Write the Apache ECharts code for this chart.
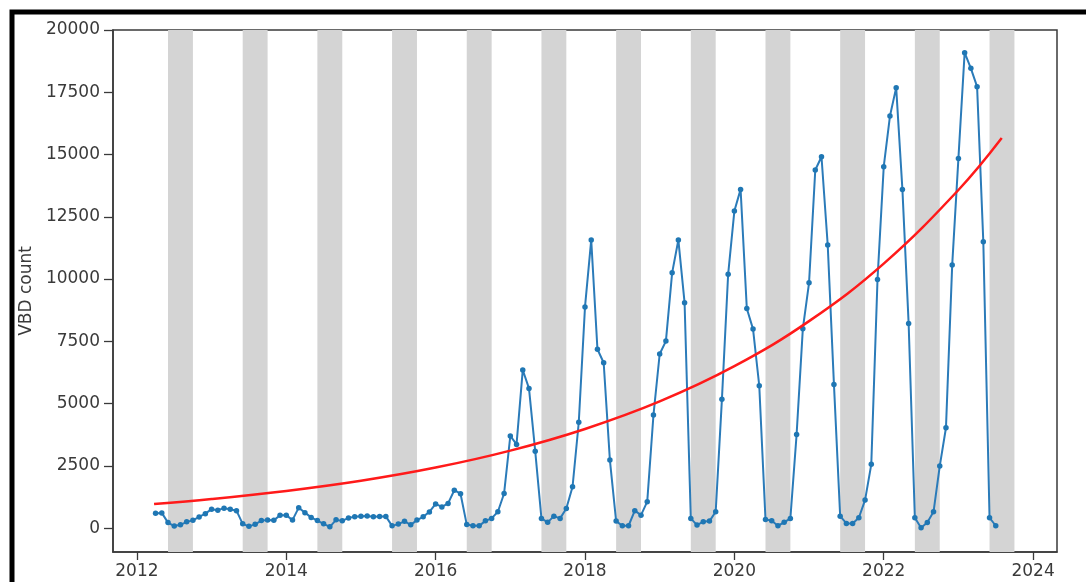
<!DOCTYPE html>
<html>
<head>
<meta charset="utf-8">
<script src="https://cdn.jsdelivr.net/npm/echarts@6/dist/echarts.min.js"></script>
<style>
html,body{margin:0;padding:0;background:#fff;}
#c{width:1086px;height:582px;}
</style>
</head>
<body>
<div id="c"></div>
<script>
// Monthly VBD counts (first day of each month)
const months = [
 '2012-04','2012-05','2012-06','2012-07','2012-08','2012-09','2012-10','2012-11','2012-12',
 '2013-01','2013-02','2013-03','2013-04','2013-05','2013-06','2013-07','2013-08','2013-09','2013-10','2013-11','2013-12',
 '2014-01','2014-02','2014-03','2014-04','2014-05','2014-06','2014-07','2014-08','2014-09','2014-10','2014-11','2014-12',
 '2015-01','2015-02','2015-03','2015-04','2015-05','2015-06','2015-07','2015-08','2015-09','2015-10','2015-11','2015-12',
 '2016-01','2016-02','2016-03','2016-04','2016-05','2016-06','2016-07','2016-08','2016-09','2016-10','2016-11','2016-12',
 '2017-01','2017-02','2017-03','2017-04','2017-05','2017-06','2017-07','2017-08','2017-09','2017-10','2017-11','2017-12',
 '2018-01','2018-02','2018-03','2018-04','2018-05','2018-06','2018-07','2018-08','2018-09','2018-10','2018-11','2018-12',
 '2019-01','2019-02','2019-03','2019-04','2019-05','2019-06','2019-07','2019-08','2019-09','2019-10','2019-11','2019-12',
 '2020-01','2020-02','2020-03','2020-04','2020-05','2020-06','2020-07','2020-08','2020-09','2020-10','2020-11','2020-12',
 '2021-01','2021-02','2021-03','2021-04','2021-05','2021-06','2021-07','2021-08','2021-09','2021-10','2021-11','2021-12',
 '2022-01','2022-02','2022-03','2022-04','2022-05','2022-06','2022-07','2022-08','2022-09','2022-10','2022-11','2022-12',
 '2023-01','2023-02','2023-03','2023-04','2023-05','2023-06','2023-07'
];
const vbdCounts = [
 600, 610, 220, 80, 130, 250, 310, 450, 580,
 760, 720, 800, 760, 700, 170, 70, 150, 300, 320, 310, 520,
 520, 320, 820, 620, 430, 300, 170, 50, 330, 290, 410, 455,
 480, 490, 455, 470, 470, 90, 160, 270, 130, 320, 455, 650,
 970, 850, 990, 1520, 1380, 140, 90, 90, 290, 390, 655, 1390,
 3700, 3360, 6350, 5610, 3090, 390, 230, 480, 390, 790, 1660, 4250,
 8880, 11570, 7180, 6640, 2730, 280, 94, 94, 700, 520, 1060, 4540,
 6990, 7510, 10250, 11570, 9050, 390, 120, 255, 280, 655, 5170, 10190,
 12730, 13600, 8820, 7990, 5715, 350, 295, 94, 230, 390, 3760, 8000,
 9850, 14380, 14910, 11365, 5770, 480, 187, 187, 415, 1125, 2560, 9985,
 14510, 16545, 17685, 13600, 8220, 415, 13, 228, 655, 2490, 4030, 10560,
 14845, 19090, 18460, 17725, 11500, 415, 94
];
// Exponential trend line
const trendYears = [2012.23, 2013, 2014, 2015, 2016, 2017, 2018, 2019, 2020, 2021, 2022, 2023, 2023.58];
const trendValues = [964, 1165, 1490, 1900, 2430, 3110, 3980, 5085, 6500, 8310, 10620, 13575, 15660];
// Shaded seasons (June 1 – October 1 each year)
const bandYears = [2012, 2013, 2014, 2015, 2016, 2017, 2018, 2019, 2020, 2021, 2022, 2023];
const xTicks = [2012, 2014, 2016, 2018, 2020, 2022, 2024];
const yTicks = [0, 2500, 5000, 7500, 10000, 12500, 15000, 17500, 20000];

function toYear(s) {
  const p = s.split('-');
  return (+p[0]) + (+p[1] - 1) / 12;
}
const lineData = months.map((m, i) => [toYear(m), vbdCounts[i]]);
const trendData = trendYears.map((t, i) => [t, trendValues[i]]);
const bands = bandYears.map(y => [{ xAxis: y + 5 / 12 }, { xAxis: y + 9 / 12 }]);

const font = 'DejaVu Sans';
const axisColor = '#3a3a3a';
const chart = echarts.init(document.getElementById('c'), null, { renderer: 'canvas' });
chart.setOption({
  animation: false,
  backgroundColor: '#fff',
  grid: { left: 113, right: 29, top: 30, bottom: 30, show: true, borderColor: axisColor, borderWidth: 1.5, backgroundColor: 'transparent' },
  xAxis: {
    type: 'value', min: 2011.68, max: 2024.32,
    axisLine: { show: true, onZero: false, lineStyle: { color: axisColor, width: 1.5 } },
    axisTick: { show: true, length: 8, customValues: xTicks, lineStyle: { color: axisColor, width: 1.3 } },
    axisLabel: { customValues: xTicks, formatter: v => String(Math.round(v)), color: axisColor, fontSize: 17, fontFamily: font, margin: 11 },
    splitLine: { show: false }
  },
  yAxis: {
    type: 'value', min: -960, max: 20000,
    name: 'VBD count', nameLocation: 'middle', nameRotate: 90, nameGap: 71,
    nameTextStyle: { color: axisColor, fontSize: 17, fontFamily: font },
    axisLine: { show: true, onZero: false, lineStyle: { color: axisColor, width: 1.5 } },
    axisTick: { show: true, length: 9, customValues: yTicks, lineStyle: { color: axisColor, width: 1.3 } },
    axisLabel: { customValues: yTicks, formatter: v => String(Math.round(v)), color: axisColor, fontSize: 17, fontFamily: font, margin: 13 },
    splitLine: { show: false }
  },
  graphic: [{
    type: 'rect', silent: true, z: 100,
    shape: { x: 12, y: 12, width: 1300, height: 800 },
    style: { fill: 'none', stroke: '#000', lineWidth: 5 }
  }],
  series: [
    {
      type: 'line', data: [], z: 1, silent: true,
      markArea: { silent: true, itemStyle: { color: '#d4d4d4' }, data: bands }
    },
    {
      type: 'line', data: lineData, z: 3,
      symbol: 'circle', symbolSize: 5.5, showSymbol: true,
      itemStyle: { color: '#1f77b4' },
      lineStyle: { color: '#2b7bb9', width: 2 }
    },
    {
      type: 'line', data: trendData, z: 4, smooth: 0.4, symbol: 'none',
      lineStyle: { color: '#ff1a1a', width: 2.5 }
    }
  ]
});
</script>
</body>
</html>
